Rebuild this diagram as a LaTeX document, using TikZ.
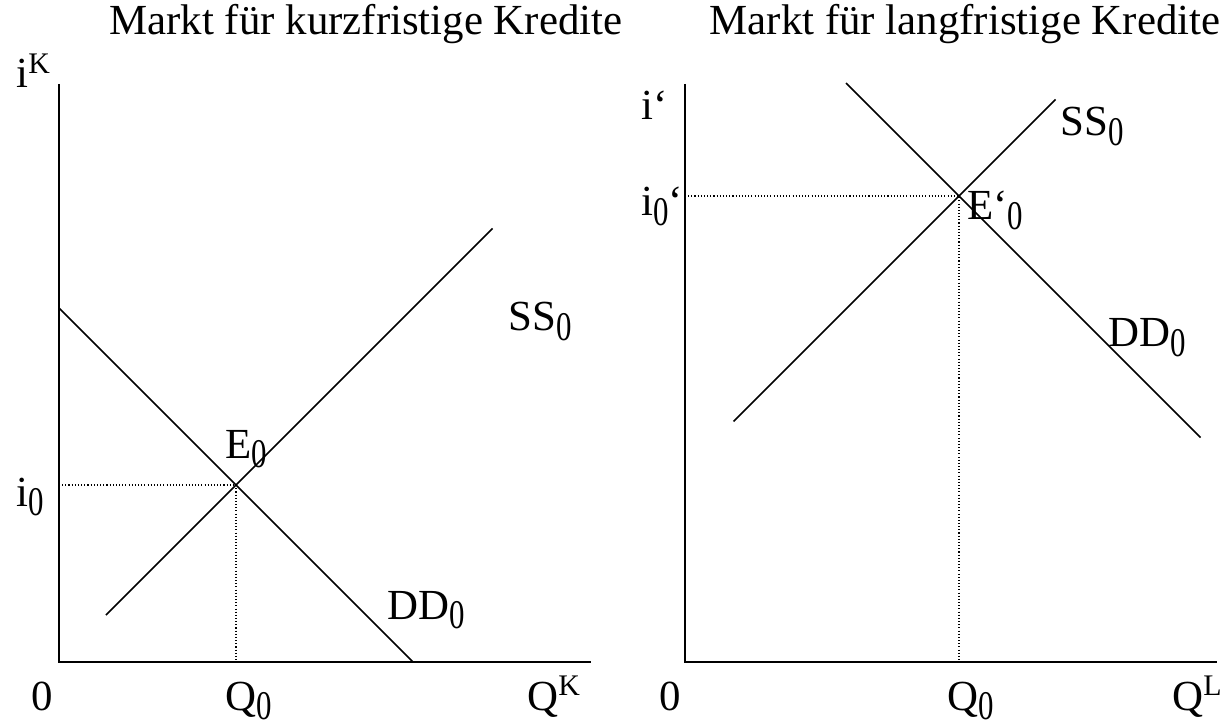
\documentclass[tikz,border=0pt]{standalone}
\usepackage{fontspec}
\setmainfont{Liberation Serif}
\usetikzlibrary{calc}
\newcommand{\lo}[1]{\raisebox{-0.22em}{\scalebox{0.72}[0.95]{#1}}}
\newcommand{\hi}[1]{\raisebox{0.34em}{\fontsize{17}{17}\selectfont #1}}
\tikzset{
  axis/.style={line width=1.4pt},
  curve/.style={line width=0.85pt},
  guide/.style={line width=0.6pt,dash pattern=on 0.6pt off 1.2pt},
  lbl/.style={inner sep=0pt,anchor=base west,font=\fontsize{24.4}{29}\selectfont},
  heading/.style={lbl,anchor=base},
}

\begin{document}
\begin{tikzpicture}
  \useasboundingbox (-1.18,-1.30) rectangle (23.24,13.24);
  % short-term credit market
  \coordinate (o1) at (0,0);
  \coordinate (y1) at (0,11.56);
  \coordinate (x1) at (10.64,0);
  \draw[axis] (y1) -- (o1) -- (x1);
  \coordinate (dd1a) at (0,7.08);
  \coordinate (dd1b) at (7.08,0);
  \coordinate (ss1a) at (0.94,0.94);
  \coordinate (ss1b) at (8.67,8.67);
  \draw[curve] (dd1a) -- (dd1b);
  \draw[curve] (ss1a) -- (ss1b);
  \coordinate (e1) at (3.54,3.54);
  \draw[guide] (o1 |- e1) -- (e1) -- (e1 |- o1);
  \node[heading] (t1) at (6.14,12.54) {Markt für kurzfristige Kredite};
  \node[lbl] (iK) at (-0.86,11.48) {i\hi{K}};
  \node[lbl] (i0) at (-0.86,3.12) {i\lo{0}};
  \node[lbl] (E0) at (3.32,4.08) {E\lo{0}};
  \node[lbl] (DD1) at (6.56,0.86) {DD\lo{0}};
  \node[lbl] (SS1) at (8.98,6.62) {SS\lo{0}};
  \node[lbl] (n1) at (-0.56,-0.96) {0};
  \node[lbl] (Q1) at (3.32,-0.96) {Q\lo{0}};
  \node[lbl] (QK) at (9.36,-0.96) {Q\hi{K}};
  % long-term credit market
  \coordinate (o2) at (12.52,0);
  \coordinate (y2) at (12.52,11.56);
  \coordinate (x2) at (23.16,0);
  \draw[axis] (y2) -- (o2) -- (x2);
  \coordinate (dd2a) at (15.74,11.58);
  \coordinate (dd2b) at (22.83,4.49);
  \coordinate (ss2a) at (13.49,4.81);
  \coordinate (ss2b) at (19.93,11.25);
  \draw[curve] (dd2a) -- (dd2b);
  \draw[curve] (ss2a) -- (ss2b);
  \coordinate (e2) at (18.0,9.32);
  \draw[guide] (o2 |- e2) -- (e2) -- (e2 |- o2);
  \node[heading] (t2) at (18.12,12.54) {Markt für langfristige Kredite};
  \node[lbl] (iL) at (11.64,10.84) {i‘};
  \node[lbl] (i0L) at (11.64,8.92) {i\lo{0}‘};
  \node[lbl] (E0L) at (18.16,8.84) {E‘\lo{0}};
  \node[lbl] (SS2) at (20.02,10.52) {SS\lo{0}};
  \node[lbl] (DD2) at (20.98,6.30) {DD\lo{0}};
  \node[lbl] (n2) at (12.0,-0.96) {0};
  \node[lbl] (Q2) at (17.76,-0.96) {Q\lo{0}};
  \node[lbl] (QL) at (22.26,-0.96) {Q\hi{L}};
\end{tikzpicture}
\end{document}
